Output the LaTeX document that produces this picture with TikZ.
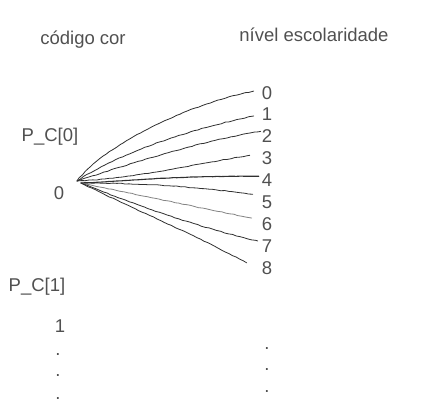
\documentclass[tikz,border=0pt]{standalone}
\usepackage{fontspec}
\setmainfont{Liberation Sans}
\usetikzlibrary{calc,decorations.pathmorphing}
\definecolor{txt}{HTML}{505050}
\definecolor{ln}{HTML}{303030}
\begin{document}
\begin{tikzpicture}[x=1pt,y=-1pt,
  lbl/.style={inner sep=0pt,anchor=base,text=txt,font=\fontsize{18.5}{22}\selectfont},
  edge/.style={draw=ln,line width=0.8pt,line cap=round,
    decorate,decoration={random steps,segment length=4pt,amplitude=0.35pt}},
  fade/.style={draw=ln!60}]
\useasboundingbox (0,0) rectangle (433,415);
% headers
\node[lbl] (hc) at (83,44) {código cor};
\node[lbl] (hn) at (314,41) {nível escolaridade};
% left column
\node[lbl] (pc0) at (50,141) {P\_C[0]};
\node[lbl] (z0) at (59,199) {0};
\node[lbl] (pc1) at (37,291) {P\_C[1]};
\node[lbl] (z1) at (60,332) {1};
\node[lbl] (ld1) at (58,355) {.};
\node[lbl] (ld2) at (58,376) {.};
\node[lbl] (ld3) at (58,399) {.};
% right column
\foreach \i in {0,...,8}{
  \node[lbl] (n\i) at (267,{99+21.9*\i}) {\i};
}
\node[lbl] (rd1) at (267,349) {.};
\node[lbl] (rd2) at (267,370) {.};
\node[lbl] (rd3) at (267,392) {.};
% sources
\coordinate (sa) at (77,181);
\coordinate (sb) at (81,183);
% connectors
\draw[edge] (sa) .. controls (105,145) and (185,105) .. ($(n0.west)+(-8,-1.5)$);
\draw[edge] (sa) .. controls (120,152) and (195,128) .. ($(n1.west)+(-8,1.5)$);
\draw[edge] (sa) .. controls (135,162) and (205,140) .. ($(n2.west)+(-1,-5)$);
\draw[edge] (sa) .. controls (140,178) and (205,162) .. ($(n3.west)+(-12,-3)$);
\draw[edge,line width=1.1pt,decoration={random steps,segment length=4pt,amplitude=0.15pt}] (sb) .. controls (130,181) and (165,176) .. ($(n4.west)+(-3,-4)$);
\draw[edge] (sb) .. controls (150,183) and (205,188) .. ($(n5.west)+(-9,-8)$);
\draw[edge,fade] (sb) .. controls (140,195) and (200,208) .. ($(n6.west)+(-10,-6)$);
\draw[edge] (sb) .. controls (130,203) and (200,228) .. ($(n7.west)+(-4,-5)$);
\draw[edge] (sb) .. controls (125,205) and (195,235) .. ($(n8.west)+(-15,-5)$);
\end{tikzpicture}
\end{document}
